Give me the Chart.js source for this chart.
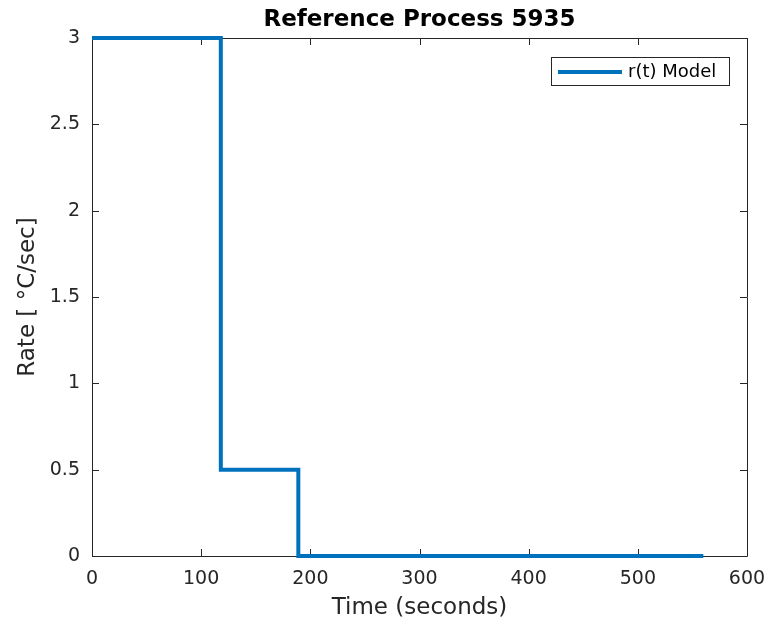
<!DOCTYPE html>
<html>
<head>
<meta charset="utf-8">
<script src="https://cdn.jsdelivr.net/npm/chart.js@4/dist/chart.umd.min.js"></script>
<style>
html,body{margin:0;padding:0;background:#fff;}
#wrap{width:768px;height:622px;position:relative;}
</style>
</head>
<body>
<div id="wrap"><canvas id="c" width="768" height="622"></canvas></div>
<script>
const titleText = "Reference Process 5935";
const seriesName = "r(t) Model";
const timeSec = [0, 118, 189, 560];
const rateVals = [3, 0.5, 0, 0];
const xTicks = [0, 100, 200, 300, 400, 500, 600];
const yTicks = [0, 0.5, 1, 1.5, 2, 2.5, 3];

const FONT = "'DejaVu Sans', 'Liberation Sans', sans-serif";
const AX = '#262626';
const LINE = '#0072BD';

const pts = timeSec.map((t, i) => ({x: t, y: rateVals[i]}));

const boxPlugin = {
  id: 'boxPlugin',
  beforeDatasetsDraw(chart) {
    const ctx = chart.ctx, a = chart.chartArea;
    const xs = chart.scales.x, ys = chart.scales.y;
    ctx.save();
    ctx.strokeStyle = AX;
    ctx.lineWidth = 1;
    ctx.beginPath();
    ctx.rect(Math.round(a.left) + 0.5, Math.round(a.top) + 0.5, Math.round(a.right - a.left), Math.round(a.bottom - a.top));
    ctx.stroke();
    const tl = 7;
    ctx.beginPath();
    xTicks.forEach(v => {
      const p = Math.round(xs.getPixelForValue(v)) + 0.5;
      ctx.moveTo(p, a.bottom); ctx.lineTo(p, a.bottom - tl);
      ctx.moveTo(p, a.top); ctx.lineTo(p, a.top + tl);
    });
    yTicks.forEach(v => {
      const p = Math.round(ys.getPixelForValue(v)) + 0.5;
      ctx.moveTo(a.left, p); ctx.lineTo(a.left + tl, p);
      ctx.moveTo(a.right, p); ctx.lineTo(a.right - tl, p);
    });
    ctx.stroke();
    ctx.restore();
  },
  afterDraw(chart) {
    const ctx = chart.ctx, a = chart.chartArea;
    ctx.save();
    // title
    ctx.fillStyle = '#000';
    ctx.font = "bold 23px " + FONT;
    ctx.textAlign = 'center';
    ctx.textBaseline = 'middle';
    ctx.fillText(titleText, (a.left + a.right) / 2, 20);
    // legend
    const bx = 551.5, by = 57.5, bw = 178, bh = 28;
    ctx.fillStyle = '#fff';
    ctx.fillRect(bx, by, bw, bh);
    ctx.strokeStyle = AX;
    ctx.lineWidth = 1;
    ctx.strokeRect(bx, by, bw, bh);
    ctx.strokeStyle = LINE;
    ctx.lineWidth = 4;
    ctx.beginPath();
    ctx.moveTo(558, 72); ctx.lineTo(622, 72);
    ctx.stroke();
    ctx.fillStyle = '#000';
    ctx.font = "18px " + FONT;
    ctx.textAlign = 'left';
    ctx.fillText(seriesName, 628, 72);
    ctx.restore();
  }
};

new Chart(document.getElementById('c'), {
  type: 'line',
  data: {
    datasets: [{
      label: seriesName,
      data: pts,
      borderColor: LINE,
      borderWidth: 4,
      pointRadius: 0,
      stepped: 'before',
      fill: false,
      clip: false,
      borderCapStyle: 'butt',
      borderJoinStyle: 'miter'
    }]
  },
  options: {
    responsive: false,
    animation: false,
    devicePixelRatio: 1,
    layout: {padding: {top: 38, right: 21, left: 0, bottom: 0}},
    plugins: {legend: {display: false}, title: {display: false}, tooltip: {enabled: false}},
    scales: {
      x: {
        type: 'linear', min: 0, max: 600,
        afterBuildTicks: s => { s.ticks = xTicks.map(v => ({value: v})); },
        afterFit: s => { s.height = 66; s.paddingLeft = 0; s.paddingRight = 0; },
        grid: {display: false, drawTicks: false},
        border: {display: false},
        ticks: {color: AX, font: {family: FONT, size: 19}, padding: 12, maxRotation: 0, callback: v => String(v)},
        title: {display: true, text: 'Time (seconds)', color: AX, font: {family: FONT, size: 23}, padding: {top: 0, bottom: 0}}
      },
      y: {
        type: 'linear', min: 0, max: 3,
        afterBuildTicks: s => { s.ticks = yTicks.map(v => ({value: v})); },
        afterFit: s => { s.width = 92; s.paddingTop = 0; s.paddingBottom = 0; },
        grid: {display: false, drawTicks: false},
        border: {display: false},
        ticks: {color: AX, font: {family: FONT, size: 19}, padding: 12, callback: v => String(v)},
        title: {display: true, text: 'Rate [ °C/sec]', color: AX, font: {family: FONT, size: 23}, padding: {top: 14, bottom: 0}}
      }
    }
  },
  plugins: [boxPlugin]
});
</script>
</body>
</html>
